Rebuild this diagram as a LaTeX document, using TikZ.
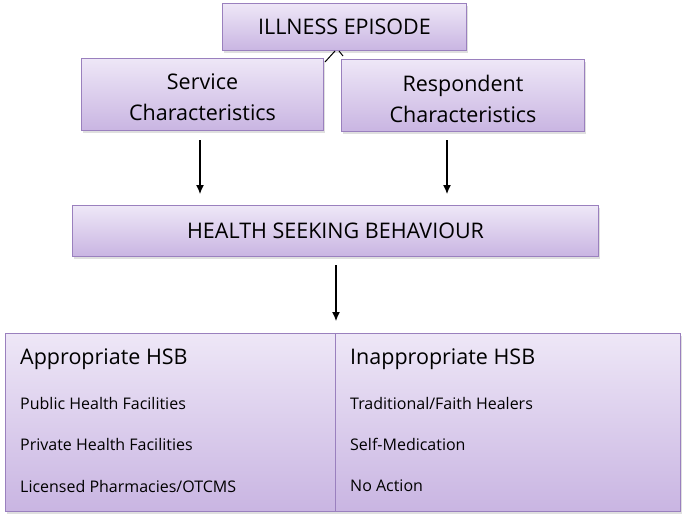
\documentclass[tikz,border=0pt]{standalone}
\usepackage{fontspec}
\setmainfont{Open Sans}
\usetikzlibrary{shadows,arrows.meta}
\definecolor{boxtop}{HTML}{EEE7F7}
\definecolor{boxbot}{HTML}{C9B5E2}
\definecolor{boxline}{HTML}{9A80BE}
\tikzset{
  box/.style={draw=boxline, line width=1pt, top color=boxtop, bottom color=boxbot,
    anchor=north west, inner sep=0pt, align=center, font=\fontsize{21.5}{31}\selectfont,
    drop shadow={shadow xshift=1pt, shadow yshift=-2pt, opacity=0.25}},
  boxtext/.style={inner sep=0pt, align=center, font=\fontsize{21.5}{31}\selectfont},
  arr/.style={-{Latex[length=9pt,width=8pt]}, line width=1.2pt, black},
  head/.style={anchor=west, font=\fontsize{21.5}{26}\selectfont, inner sep=0pt},
  item/.style={anchor=west, font=\fontsize{16}{19}\selectfont, inner sep=0pt}
}
\begin{document}
\begin{tikzpicture}[x=1pt,y=-1pt]
\useasboundingbox (0,0) rectangle (685,520);
\node[box, minimum width=244pt, minimum height=47pt] (ill) at (222,3) {ILLNESS EPISODE};
\node[box, minimum width=242pt, minimum height=72pt] (serv) at (81,58) {};
\node[boxtext, yshift=-3pt] (servt) at (serv.center) {Service\\Characteristics};
\node[box, minimum width=243pt, minimum height=72pt] (resp) at (341,59) {};
\node[boxtext, yshift=-3pt] (respt) at (resp.center) {Respondent\\Characteristics};
\node[box, minimum width=526pt, minimum height=51pt] (hsb) at (72,205) {HEALTH SEEKING BEHAVIOUR};
\node[box, minimum width=330pt, minimum height=178pt] (app) at (5,333) {};
\node[box, minimum width=345pt, minimum height=178pt] (inapp) at (335,333) {};
% small connectors near top
\coordinate (c1) at (325,62);
\coordinate (c2) at (335,51);
\coordinate (c3) at (339,51);
\coordinate (c4) at (343,56);
\draw[line width=1pt] (c1) -- (c2);
\draw[line width=1pt] (c3) -- (c4);
% arrows
\coordinate (a1s) at (200,140);
\coordinate (a1e) at (200,194);
\coordinate (a2s) at (447,140);
\coordinate (a2e) at (447,194);
\coordinate (a3s) at (336,265);
\coordinate (a3e) at (336,321);
\draw[arr] (a1s) -- (a1e);
\draw[arr] (a2s) -- (a2e);
\draw[arr] (a3s) -- (a3e);
% bottom texts
\node[head] (h1) at (20,359) {Appropriate HSB};
\node[item] (l1) at (20,403) {Public Health Facilities};
\node[item] (l2) at (20,444) {Private Health Facilities};
\node[item] (l3) at (20,486) {Licensed Pharmacies/OTCMS};
\node[head] (h2) at (350,359) {Inappropriate HSB};
\node[item] (r1) at (350,403) {Traditional/Faith Healers};
\node[item] (r2) at (350,444) {Self-Medication};
\node[item] (r3) at (350,486) {No Action};
\end{tikzpicture}
\end{document}
